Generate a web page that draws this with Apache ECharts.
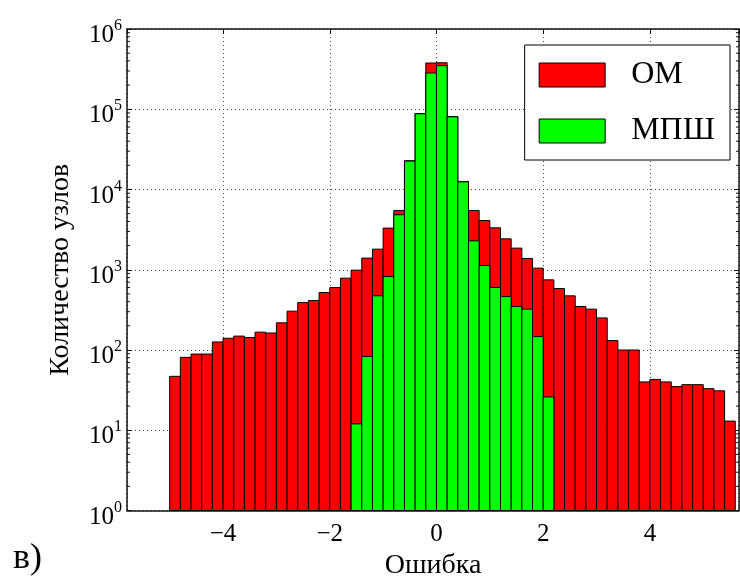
<!DOCTYPE html>
<html>
<head>
<meta charset="utf-8">
<script src="https://cdn.jsdelivr.net/npm/echarts@6/dist/echarts.min.js"></script>
<style>
  html, body { margin: 0; padding: 0; background: #fff; }
  #chart { width: 740px; height: 579px; }
</style>
</head>
<body>
<div id="chart"></div>
<script>
// bin edges of the histogram (width 0.2)
const binEdges = [
  -5.0, -4.8, -4.6, -4.4, -4.2, -4.0, -3.8, -3.6, -3.4, -3.2,
  -3.0, -2.8, -2.6, -2.4, -2.2, -2.0, -1.8, -1.6, -1.4, -1.2,
  -1.0, -0.8, -0.6, -0.4, -0.2, 0.0, 0.2, 0.4, 0.6, 0.8,
  1.0, 1.2, 1.4, 1.6, 1.8, 2.0, 2.2, 2.4, 2.6, 2.8,
  3.0, 3.2, 3.4, 3.6, 3.8, 4.0, 4.2, 4.4, 4.6, 4.8,
  5.0, 5.2, 5.4, 5.6
];

// ОМ counts per bin
const omCounts = [
  47, 81, 89, 89, 126, 140, 149, 143, 167, 163,
  218, 305, 390, 413, 520, 600, 786, 988, 1396, 1806,
  3302, 5470, 22800, 88500, 377000, 380000, 81000, 12600, 5470, 4105,
  3330, 2428, 1859, 1380, 1047, 748, 583, 473, 348, 323,
  251, 131, 100, 100, 40, 43, 40, 35, 37, 37,
  33, 31, 13
];

// МПШ counts per bin (null = empty)
const mpshCounts = [
  null, null, null, null, null, null, null, null, null, null,
  null, null, null, null, null, null, null, 12, 83, 473,
  823, 4840, 22600, 87900, 283000, 349000, 80600, 12470, 2292, 1128,
  600, 463, 348, 323, 147, 26, null, null, null, null,
  null, null, null, null, null, null, null, null, null, null,
  null, null, null
];

const seriesNames = ['ОМ', 'МПШ'];
const seriesColors = ['#ff0000', '#00ff00'];

const xMin = -5.8, xMax = 5.67;
const yMin = 1, yMax = 1e6;

const FONT = "'Liberation Serif', 'Times New Roman', serif";

function toBins(counts) {
  const out = [];
  counts.forEach((c, i) => {
    if (c != null && c > 0) out.push([binEdges[i], binEdges[i + 1], c]);
  });
  return out;
}

// log minor tick values 2..9 x 10^k
const minorTicks = [];
for (let k = 0; k < 6; k++) {
  for (let m = 2; m <= 9; m++) minorTicks.push([m * Math.pow(10, k)]);
}

function histItem(color) {
  return function (params, api) {
    const a = api.coord([api.value(0), api.value(2)]);
    const b = api.coord([api.value(1), yMin]);
    return {
      type: 'rect',
      shape: { x: a[0], y: a[1], width: b[0] - a[0], height: b[1] - a[1] },
      style: { fill: color, stroke: '#000', lineWidth: 1 }
    };
  };
}

const frameLine = { show: true, onZero: false, lineStyle: { color: '#111', width: 1.5 } };
const tickIn = { inside: true, length: 5, lineStyle: { color: '#111' } };

const chart = echarts.init(document.getElementById('chart'), null, { renderer: 'canvas' });

const option = {
  backgroundColor: '#fff',
  animation: false,
  textStyle: { fontFamily: FONT },
  grid: { left: 127, right: 1, top: 29, bottom: 68.5, outerBoundsMode: 'none', containLabel: false },
  legend: {
    orient: 'vertical',
    right: 10,
    top: 45,
    padding: [14, 15, 13, 14],
    itemGap: 24,
    itemWidth: 66,
    itemHeight: 24,
    backgroundColor: '#fff',
    borderColor: '#000',
    borderWidth: 1,
    borderRadius: 0,
    textStyle: { fontFamily: FONT, fontSize: 32, color: '#000', lineHeight: 24, padding: [0, 0, 0, 21] },
    data: seriesNames.map((n, i) => ({
      name: n,
      icon: 'rect',
      itemStyle: { color: seriesColors[i], borderColor: '#000', borderWidth: 1 }
    }))
  },
  xAxis: [
    {
      type: 'value',
      min: xMin,
      max: xMax,
      splitNumber: 5,
      name: 'Ошибка',
      nameLocation: 'middle',
      nameGap: 33,
      nameTextStyle: { fontFamily: FONT, fontSize: 28, color: '#000' },
      axisLine: frameLine,
      axisTick: tickIn,
      axisLabel: {
        showMinLabel: false,
        showMaxLabel: false,
        margin: 11,
        fontFamily: FONT,
        fontSize: 25,
        color: '#000',
        formatter: v => (v < 0 ? '\u2212' + Math.abs(v) : String(v))
      },
      splitLine: { show: true, lineStyle: { color: '#444', width: 1, type: [1, 3] } }
    },
    {
      type: 'value',
      position: 'top',
      min: xMin,
      max: xMax,
      splitNumber: 5,
      axisLine: frameLine,
      axisTick: tickIn,
      axisLabel: { show: false },
      splitLine: { show: false }
    }
  ],
  yAxis: [
    {
      type: 'log',
      logBase: 10,
      min: yMin,
      max: yMax,
      name: 'Количество узлов',
      nameLocation: 'middle',
      nameGap: 52,
      nameTextStyle: { fontFamily: FONT, fontSize: 28, color: '#000' },
      axisLine: frameLine,
      axisTick: tickIn,
      axisLabel: {
        margin: 5,
        padding: [8, 0, 0, 0],
        formatter: v => '{b|10}{s|' + Math.round(Math.log10(v)) + '}',
        rich: {
          b: { fontFamily: FONT, fontSize: 25, color: '#000', lineHeight: 30, verticalAlign: 'bottom' },
          s: { fontFamily: FONT, fontSize: 16, color: '#000', lineHeight: 30, verticalAlign: 'top' }
        }
      },
      splitLine: { show: true, lineStyle: { color: '#444', width: 1, type: [1, 3] } }
    },
    {
      type: 'log',
      logBase: 10,
      position: 'right',
      min: yMin,
      max: yMax,
      axisLine: frameLine,
      axisTick: tickIn,
      axisLabel: { show: false },
      splitLine: { show: false }
    }
  ],
  series: [
    {
      name: seriesNames[0],
      type: 'custom',
      itemStyle: { color: seriesColors[0], borderColor: '#000', borderWidth: 1 },
      encode: { x: [0, 1], y: 2 },
      renderItem: histItem(seriesColors[0]),
      data: toBins(omCounts),
      z: 2
    },
    {
      name: seriesNames[1],
      type: 'custom',
      itemStyle: { color: seriesColors[1], borderColor: '#000', borderWidth: 1 },
      encode: { x: [0, 1], y: 2 },
      renderItem: histItem(seriesColors[1]),
      data: toBins(mpshCounts),
      z: 3
    },
    {
      // minor ticks of the log axis, on both sides
      type: 'custom',
      silent: true,
      encode: { y: 0 },
      renderItem: (params, api) => {
        const y = api.coord([xMin, api.value(0)])[1];
        const cs = params.coordSys;
        return {
          type: 'group',
          children: [
            { type: 'line', shape: { x1: cs.x, y1: y, x2: cs.x + 3, y2: y }, style: { stroke: '#111', lineWidth: 1 } },
            { type: 'line', shape: { x1: cs.x + cs.width, y1: y, x2: cs.x + cs.width - 3, y2: y }, style: { stroke: '#111', lineWidth: 1 } }
          ]
        };
      },
      data: minorTicks,
      z: 4
    }
  ],
  graphic: [
    {
      type: 'text',
      left: 13,
      top: 541,
      style: { text: 'в)', font: "36px 'Liberation Serif', serif", fill: '#000' }
    }
  ]
};

chart.setOption(option);
</script>
</body>
</html>
